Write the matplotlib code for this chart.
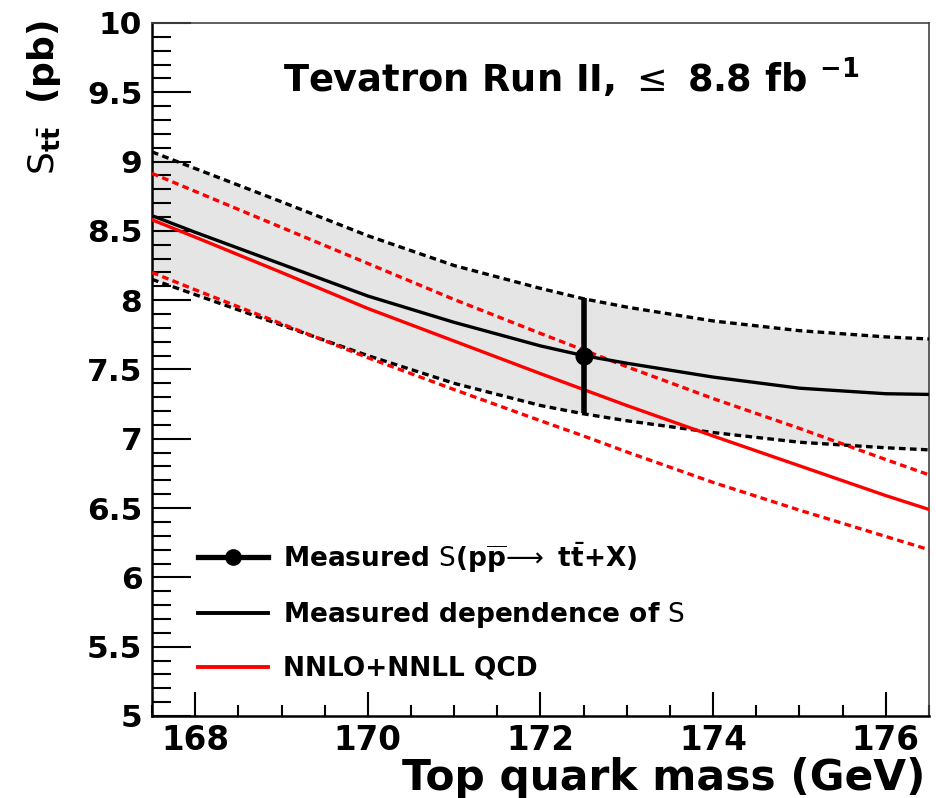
import matplotlib
matplotlib.use("Agg")
import matplotlib.pyplot as plt
from matplotlib.ticker import MultipleLocator
from matplotlib.lines import Line2D
import numpy as np

# ---- data ----
mass = [167.5, 168, 169, 170, 171, 172, 172.5, 173, 174, 175, 176, 176.5]
meas_dep = [8.61, 8.49, 8.26, 8.03, 7.84, 7.67, 7.60, 7.545, 7.445, 7.365, 7.325, 7.32]
meas_up = [9.07, 8.95, 8.71, 8.465, 8.25, 8.085, 8.01, 7.95, 7.85, 7.78, 7.735, 7.72]
meas_dn = [8.15, 8.04, 7.82, 7.60, 7.40, 7.24, 7.18, 7.13, 7.045, 6.975, 6.935, 6.92]
theo = [8.58, 8.455, 8.20, 7.94, 7.705, 7.47, 7.355, 7.24, 7.02, 6.805, 6.59, 6.49]
theo_up = [8.915, 8.785, 8.525, 8.265, 8.005, 7.76, 7.64, 7.52, 7.29, 7.075, 6.85, 6.74]
theo_dn = [8.20, 8.075, 7.83, 7.585, 7.355, 7.13, 7.02, 6.905, 6.685, 6.485, 6.295, 6.20]
point_mass = [172.5]
point_xs = [7.60]
point_err = [0.415]

xtick_vals = [168, 170, 172, 174, 176]
xtick_labels = ['168', '170', '172', '174', '176']
ytick_vals = [5, 5.5, 6, 6.5, 7, 7.5, 8, 8.5, 9, 9.5, 10]
ytick_labels = ['5', '5.5', '6', '6.5', '7', '7.5', '8', '8.5', '9', '9.5', '10']

plt.rcParams['font.family'] = ['DejaVu Sans']
plt.rcParams['mathtext.fontset'] = 'dejavusans'

fig = plt.figure(figsize=(9.36, 7.98), dpi=100)
ax = fig.add_axes([0.1624, 0.1028, 0.8301, 0.8684])

RED = '#ff0000'
LW = 2.4
DASH = (2.0, 1.3)

ax.fill_between(mass, meas_dn, meas_up, color='#e5e5e5', lw=0, zorder=1)
ax.plot(mass, meas_up, color='black', lw=LW, dashes=DASH, zorder=3)
ax.plot(mass, meas_dn, color='black', lw=LW, dashes=DASH, zorder=3)
ax.plot(mass, theo_up, color=RED, lw=LW, dashes=DASH, zorder=3)
ax.plot(mass, theo_dn, color=RED, lw=LW, dashes=DASH, zorder=3)
ax.plot(mass, meas_dep, color='black', lw=LW, zorder=4)
ax.plot(mass, theo, color=RED, lw=LW, zorder=4)
ax.errorbar(point_mass, point_xs, yerr=point_err, fmt='o', color='black',
            ms=12, elinewidth=4, capsize=0, zorder=6)

ax.set_xlim(167.5, 176.5)
ax.set_ylim(5, 10)
ax.xaxis.set_minor_locator(MultipleLocator(0.5))
ax.yaxis.set_minor_locator(MultipleLocator(0.1))
ax.tick_params(axis='both', which='both', direction='in', top=False, right=False, width=1.5)
ax.tick_params(axis='y', which='major', length=28, pad=7)
ax.tick_params(axis='y', which='minor', length=14)
ax.tick_params(axis='x', which='major', length=17, pad=6)
ax.tick_params(axis='x', which='minor', length=8)
for side in ['left', 'bottom']:
    ax.spines[side].set_linewidth(1.8)
for side in ['top', 'right']:
    ax.spines[side].set_linewidth(1.2)
    ax.spines[side].set_color('#444444')

ax.set_yticks(ytick_vals)
ax.set_yticklabels(ytick_labels, fontsize=22.5, fontweight='bold')
ax.set_xticks(xtick_vals)
ax.set_xticklabels(xtick_labels, fontsize=23.5, fontweight='bold')

fig.text(0.9885, 0.010, 'Top quark mass (GeV)', ha='right', va='baseline',
         fontsize=30.5, fontweight='bold')

fig.text(0.047, 0.975, r'$\mathrm{S}_{\mathbf{t\bar{t}}}$  $\mathbf{(pb)}$', rotation=90,
         ha='center', va='top', fontsize=26)

ax.text(0.1686, 0.9004, r'Tevatron Run II, $\leq$ 8.8 fb $^{\mathbf{-1}}$',
        transform=ax.transAxes, fontsize=26.5, fontweight='bold',
        ha='left', va='baseline')

handles = [
    Line2D([], [], color='black', lw=3.8, marker='o', ms=11),
    Line2D([], [], color='black', lw=2.8),
    Line2D([], [], color=RED, lw=2.8),
]
labels = [r'Measured $\mathrm{S}$(p$\mathbf{\overline{p}}\!\longrightarrow$ t$\mathbf{\bar{t}}$+X)',
          r'Measured dependence of $\mathrm{S}$',
          'NNLO+NNLL QCD']
leg = ax.legend(handles, labels, loc='upper left', bbox_to_anchor=(0.0592, 0.254),
                frameon=False, prop={'size': 19, 'weight': 'bold'},
                borderaxespad=0, borderpad=0,
                handlelength=2.65, handletextpad=0.57, labelspacing=0.97)

fig.savefig('out.png', dpi=100)
